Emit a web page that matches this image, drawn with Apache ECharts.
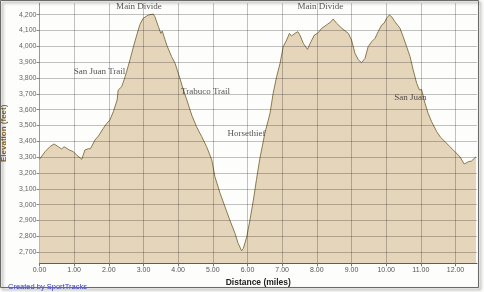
<!DOCTYPE html>
<html>
<head>
<meta charset="utf-8">
<script src="https://cdn.jsdelivr.net/npm/echarts@6/dist/echarts.min.js"></script>
<style>html,body{margin:0;padding:0;background:#fff;}#c{width:484px;height:292px;}</style>
</head>
<body>
<div id="c"></div>
<script>
// Distance (miles)
const distance = [0.00,0.04,0.16,0.30,0.42,0.54,0.64,0.71,0.86,0.98,1.07,1.22,1.31,1.41,1.47,1.60,1.70,1.75,1.84,1.94,2.03,2.13,2.24,2.27,2.37,2.47,2.61,2.71,2.82,2.90,2.99,3.14,3.28,3.33,3.43,3.50,3.54,3.59,3.67,3.81,3.91,4.05,4.15,4.25,4.39,4.53,4.68,4.82,4.97,5.06,5.21,5.35,5.49,5.64,5.73,5.83,5.88,5.98,6.07,6.17,6.26,6.36,6.50,6.65,6.74,6.84,6.94,7.03,7.13,7.21,7.27,7.37,7.45,7.51,7.61,7.73,7.83,7.93,8.02,8.14,8.28,8.41,8.47,8.57,8.72,8.91,9.00,9.10,9.20,9.29,9.39,9.48,9.58,9.68,9.77,9.87,9.94,10.01,10.09,10.16,10.25,10.40,10.49,10.59,10.69,10.78,10.88,10.96,11.02,11.12,11.21,11.31,11.46,11.57,11.70,11.84,12.01,12.13,12.25,12.37,12.46,12.59];
// Elevation (feet)
const elevation = [3286,3284,3334,3366,3383,3366,3351,3366,3345,3334,3313,3286,3345,3353,3353,3408,3433,3429,3482,3513,3534,3587,3661,3724,3745,3808,3914,3998,4082,4140,4177,4198,4204,4187,4124,4082,4097,4093,4008,3935,3893,3798,3724,3661,3566,3492,3429,3366,3282,3176,3071,2986,2902,2818,2755,2708,2723,2797,2902,3029,3160,3295,3450,3577,3703,3808,3893,3998,4040,4082,4065,4082,4093,4072,4019,3981,4029,4072,4082,4114,4135,4156,4173,4146,4114,4082,4040,3956,3914,3897,3924,3998,4029,4051,4093,4135,4146,4177,4198,4187,4156,4114,4061,3998,3935,3850,3766,3724,3728,3640,3577,3524,3460,3425,3397,3366,3328,3302,3256,3271,3275,3302];
// Tick labels
const xTicks = [0,1,2,3,4,5,6,7,8,9,10,11,12];
const yTicks = [2700,2800,2900,3000,3100,3200,3300,3400,3500,3600,3700,3800,3900,4000,4100,4200];
// Annotations
const noteText = ['Main Divide','San Juan Trail','Trabuco Trail','Horsethief','Main Divide','San Juan'];
const noteX = [2.87,1.73,4.79,5.97,8.10,10.70];
const noteY = [4249,3838,3711,3446,4249,3673];

const points = distance.map((d,i)=>[d,elevation[i]]);
const gridLines = yTicks.map(v=>({yAxis:v})).concat(xTicks.filter(v=>v>0).map(v=>({xAxis:v})));

const chart = echarts.init(document.getElementById('c'), null, {renderer:'canvas'});
const option = {
  animation:false,
  backgroundColor:'#fdfdfc',
  title:{
    text:'Created by SportTracks', left:3, top:278,
    textStyle:{fontFamily:'Liberation Sans', fontSize:7.5, fontWeight:'normal', color:'#3a3ac8'}
  },
  graphic:[{
    type:'rect', z:100, silent:true,
    shape:{x:0.5,y:0.5,width:478,height:287},
    style:{fill:null, stroke:'#6a6a6a', lineWidth:1, shadowBlur:3, shadowOffsetX:2, shadowOffsetY:2, shadowColor:'rgba(0,0,0,0.5)'}
  }],
  grid:{left:39.5, right:7, top:3.3, bottom:28.7, containLabel:false, outerBoundsMode:'none', show:false},
  xAxis:{
    type:'value', min:0, max:12.62,
    name:'Distance (miles)', nameLocation:'middle', nameGap:13,
    nameTextStyle:{fontFamily:'Liberation Sans', fontWeight:'bold', fontSize:8.5, color:'#222'},
    axisLine:{show:true, onZero:false, lineStyle:{color:'#555', width:1}},
    axisTick:{show:true, length:3, customValues:xTicks, lineStyle:{color:'#777'}},
    axisLabel:{customValues:xTicks, formatter:v=>v.toFixed(2), fontFamily:'Liberation Sans', fontSize:7, color:'#555', margin:3},
    splitLine:{show:false}
  },
  yAxis:{
    type:'value', min:2629, max:4272,
    name:'Elevation (feet)', nameLocation:'middle', nameGap:27, nameRotate:90,
    nameTextStyle:{fontFamily:'Liberation Sans', fontWeight:'bold', fontSize:8, color:'#8a6a2a'},
    axisLine:{show:true, lineStyle:{color:'#999', width:1}},
    axisTick:{show:true, length:3, customValues:yTicks, lineStyle:{color:'#888'}},
    axisLabel:{customValues:yTicks, formatter:v=>v.toLocaleString('en-US'), fontFamily:'Liberation Sans', fontSize:7, color:'#666', margin:3},
    splitLine:{show:false}
  },
  series:[{
    type:'line', z:1,
    data:points,
    showSymbol:false, smooth:false,
    lineStyle:{width:0, opacity:0},
    areaStyle:{color:'#e5d5bb', opacity:1, origin:'start'},
    markLine:{
      silent:true, symbol:['none','none'], label:{show:false},
      lineStyle:{type:'solid', width:1, color:'rgba(0,0,0,0.24)'},
      data:gridLines
    }
  },{
    type:'line', z:3,
    data:points,
    showSymbol:false, smooth:false,
    lineStyle:{color:'#8a7a4c', width:1}
  },{
    type:'scatter', symbolSize:0,
    data:noteText.map((t,i)=>({name:t, value:[noteX[i],noteY[i]]})),
    label:{show:true, position:'inside', formatter:p=>p.name,
      fontFamily:'Liberation Serif', fontSize:9, color:'#2a2a2a'},
    z:5
  }]
};
chart.setOption(option);
</script>
</body>
</html>
